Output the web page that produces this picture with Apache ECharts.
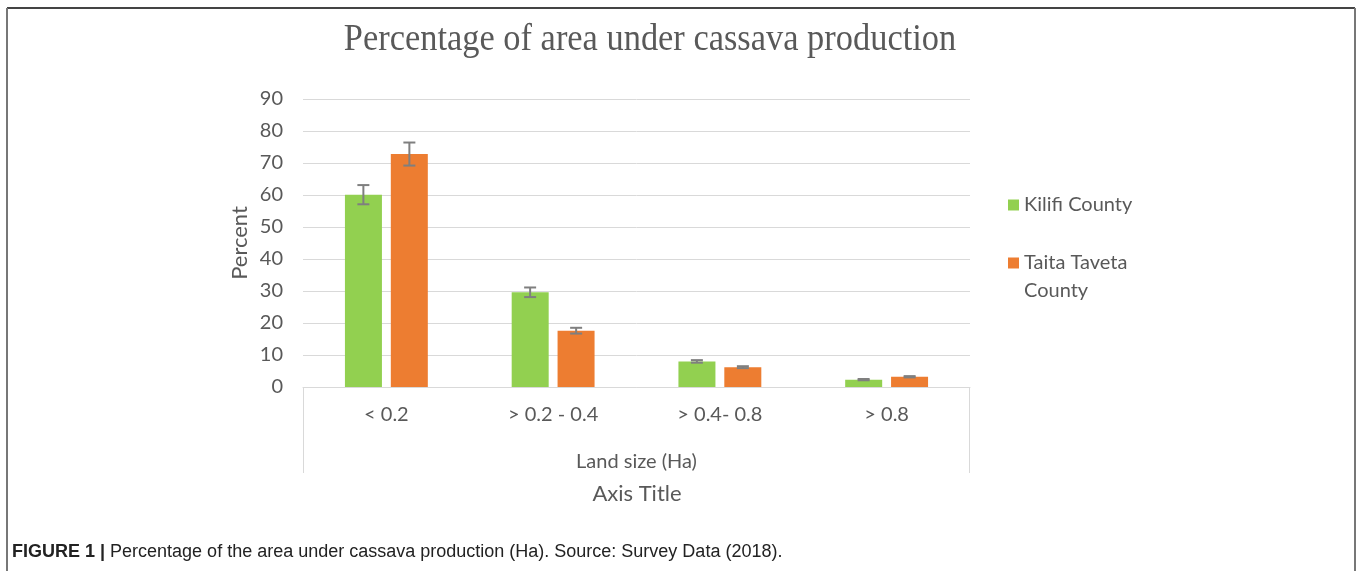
<!DOCTYPE html>
<html>
<head>
<meta charset="utf-8">
<script src="https://cdn.jsdelivr.net/npm/echarts@6/dist/echarts.min.js"></script>
<style>
  html, body {margin: 0; padding: 0; background: #fff;}
  #chart {width: 1358px; height: 571px;}
</style>
</head>
<body>
<div id="chart"></div>
<script>
// data
const categories = ['< 0.2', '> 0.2 - 0.4', '> 0.4- 0.8', '> 0.8']
const kilifi = [60.1, 29.6, 8.0, 2.3]
const kilifiErr = [3.0, 1.5, 0.4, 0.2]
const taita = [72.8, 17.6, 6.2, 3.2]
const taitaErr = [3.6, 0.9, 0.3, 0.2]
const yTicks = [0, 90, 10] // min, max, step

;(function () {
  const chart = echarts.init(document.getElementById('chart'))
  const txt = '#595959', grid = '#d9d9d9', font = 'Lato'
  const barW = 37, shift = 23

  /** error bar drawn with the value axis */
  function errBars(offset) {
    return function (params, api) {
      const i = api.value(0), v = api.value(1), e = api.value(2)
      const top = api.coord([i, v + e]), bot = api.coord([i, v - e])
      const x = top[0] + offset, cap = 6
      const st = {stroke: '#7f7f7f', lineWidth: 2}
      return {type: 'group', children: [
        {type: 'line', shape: {x1: x, y1: top[1], x2: x, y2: bot[1]}, style: st},
        {type: 'line', shape: {x1: x - cap, y1: top[1], x2: x + cap, y2: top[1]}, style: st},
        {type: 'line', shape: {x1: x - cap, y1: bot[1], x2: x + cap, y2: bot[1]}, style: st},
      ]}
    }
  }

  const option = {
    animation: false,
    textStyle: {fontFamily: font},
    grid: {left: 303, right: 388, top: 99, bottom: 184},
    legend: [{
      orient: 'vertical', left: 1003, top: 190, icon: 'rect', itemWidth: 11, itemHeight: 11,
      data: ['Kilifi County'], textStyle: {color: txt, fontSize: 20, fontFamily: font},
    }, {
      orient: 'vertical', left: 1003, top: 216, icon: 'rect', itemWidth: 11, itemHeight: 11,
      data: ['Taita Taveta County'],
      // leading blank line keeps the marker level with the first line
      formatter: () => ' \nTaita Taveta\nCounty',
      textStyle: {color: txt, fontSize: 20, fontFamily: font, lineHeight: 28},
    }],
    xAxis: {
      type: 'category', data: categories,
      axisLine: {lineStyle: {color: grid, width: 1}}, axisTick: {show: false},
      axisLabel: {color: txt, fontSize: 20, margin: 18},
      name: 'Land size (Ha)', nameLocation: 'middle', nameGap: 65,
      nameTextStyle: {color: txt, fontSize: 20},
    },
    yAxis: {
      type: 'value', min: yTicks[0], max: yTicks[1], interval: yTicks[2],
      axisLine: {show: false}, axisTick: {show: false},
      splitLine: {lineStyle: {color: grid, width: 1}},
      axisLabel: {color: txt, fontSize: 20, margin: 20},
      name: 'Percent', nameLocation: 'middle', nameGap: 52, nameRotate: 90,
      nameTextStyle: {color: txt, fontSize: 22},
    },
    series: [
      {name: 'Kilifi County', type: 'bar', data: kilifi, barWidth: barW, barGap: '24%', itemStyle: {color: '#92d050'}},
      {name: 'Taita Taveta County', type: 'bar', data: taita, barWidth: barW, barGap: '24%', itemStyle: {color: '#ed7d31'}},
      {type: 'custom', renderItem: errBars(-shift), data: kilifi.map((v, i) => [i, v, kilifiErr[i]]), z: 5, silent: true},
      {type: 'custom', renderItem: errBars(shift), data: taita.map((v, i) => [i, v, taitaErr[i]]), z: 5, silent: true},
    ],
    graphic: [
      // figure frame
      {type: 'line', shape: {x1: 7, y1: 8, x2: 1355, y2: 8}, style: {stroke: '#444', lineWidth: 2}},
      {type: 'line', shape: {x1: 7, y1: 8, x2: 7, y2: 571}, style: {stroke: '#777', lineWidth: 2}},
      {type: 'line', shape: {x1: 1355, y1: 8, x2: 1355, y2: 571}, style: {stroke: '#777', lineWidth: 2}},
      // category axis box
      {type: 'line', shape: {x1: 303.5, y1: 387, x2: 303.5, y2: 473}, style: {stroke: grid, lineWidth: 1}},
      {type: 'line', shape: {x1: 969.5, y1: 387, x2: 969.5, y2: 473}, style: {stroke: grid, lineWidth: 1}},
      {type: 'text', x: 650, y: 22, scaleX: 0.93,
        style: {text: 'Percentage of area under cassava production', fill: txt, font: '37px "Liberation Serif"', align: 'center'}},
      {type: 'text', x: 637, y: 494,
        style: {text: 'Axis Title', fill: txt, font: '22px Lato', align: 'center', verticalAlign: 'middle'}},
      {type: 'text', x: 12, y: 552,
        style: {
          text: '{b|FIGURE 1 |} Percentage of the area under cassava production (Ha). Source: Survey Data (2018).',
          fill: '#222', verticalAlign: 'middle',
          rich: {b: {fontWeight: 'bold', fontSize: 18, fontFamily: '"Liberation Sans"', fill: '#222'}},
          fontSize: 18, fontFamily: '"Liberation Sans"',
        }},
    ],
  }
  chart.setOption(option)
})()
</script>
</body>
</html>
